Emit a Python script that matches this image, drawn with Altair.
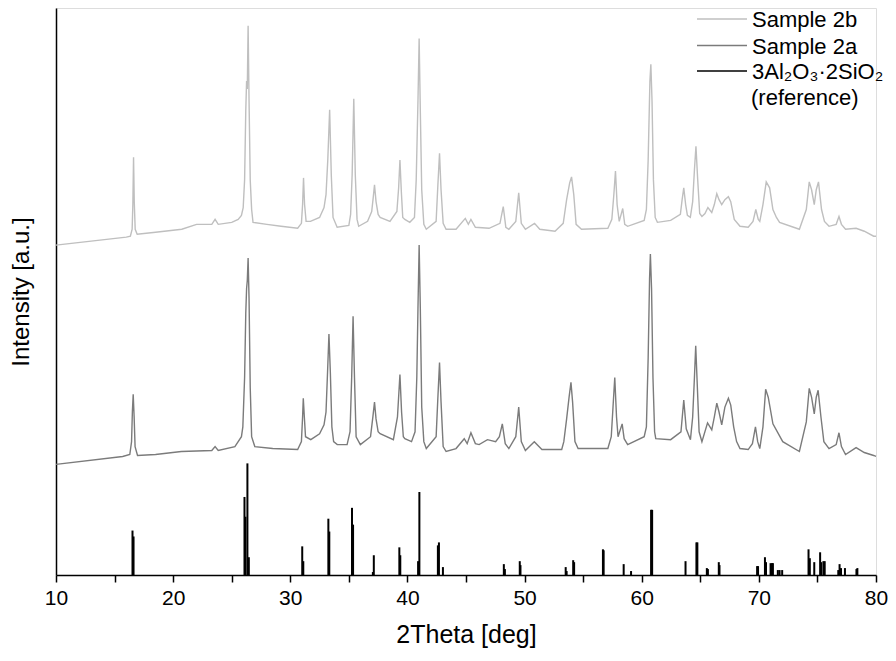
import altair as alt
import pandas as pd

# ---------------- data ----------------
series_names = ["Sample 2b", "Sample 2a", "3Al2O3·2SiO2 (reference)"]

# Sample 2b (upper pattern): 2theta [deg], intensity [a.u., as displayed]
sample_2b_theta = [
    10.0, 16.0, 16.35, 16.5, 16.56, 16.62, 16.68, 16.76, 16.93, 18.5, 20.74, 22.0, 23.3, 23.58,
    23.85, 25.0, 25.55, 25.83, 25.98, 26.1, 26.2, 26.27, 26.33, 26.4, 26.48, 26.58, 26.7, 26.82,
    28.0, 29.21, 30.63, 30.95, 31.05, 31.13, 31.22, 31.35, 31.72, 32.5, 32.88, 33.05, 33.2, 33.36,
    33.5, 33.65, 34.0, 35.0, 35.15, 35.28, 35.42, 35.55, 35.7, 35.84, 36.6, 36.95, 37.08, 37.19,
    37.32, 37.5, 37.67, 38.51, 39.1, 39.25, 39.36, 39.48, 39.6, 39.78, 40.2, 40.6, 40.75, 40.9,
    41.0, 41.1, 41.22, 41.4, 41.61, 42.45, 42.6, 42.74, 42.87, 43.05, 43.3, 44.15, 44.94, 45.2,
    45.42, 45.8, 46.97, 47.9, 48.18, 48.4, 48.66, 49.25, 49.5, 49.72, 50.07, 50.85, 51.3, 52.6,
    53.3, 53.59, 53.85, 54.01, 54.2, 54.4, 54.86, 57.11, 57.45, 57.62, 57.76, 57.9, 58.08, 58.38,
    58.55, 58.8, 60.21, 60.4, 60.55, 60.7, 60.78, 60.88, 61.0, 61.15, 61.34, 62.47, 63.3, 63.45,
    63.59, 63.75, 63.9, 64.15, 64.35, 64.5, 64.63, 64.78, 64.95, 65.14, 65.4, 65.65, 65.98, 66.2,
    66.41, 66.6, 66.83, 67.1, 67.4, 67.6, 67.9, 68.39, 69.09, 69.5, 69.74, 69.95, 70.08, 70.35,
    70.63, 70.92, 71.2, 71.5, 71.77, 73.46, 74.05, 74.3, 74.5, 74.73, 74.9, 75.09, 75.35, 75.6,
    75.99, 76.6, 76.84, 77.05, 77.4, 78.3, 79.0, 79.8, 80.0,
]
sample_2b_int = [
    334, 342, 343, 350, 375, 423, 378, 350, 345, 347, 350, 355, 355, 360,
    355, 357, 360, 364, 372, 400, 470, 500, 492, 556, 480, 400, 370, 357,
    355, 353, 351, 356, 375, 402, 375, 358, 358, 362, 372, 385, 420, 471,
    405, 362, 352, 354, 365, 405, 482, 405, 360, 353, 358, 368, 382, 395,
    378, 365, 362, 358, 368, 392, 420, 388, 362, 360, 357, 362, 400, 480,
    543, 470, 390, 355, 350, 358, 395, 427, 390, 356, 350, 350, 361, 355,
    360, 352, 351, 356, 373, 352, 350, 358, 387, 356, 350, 356, 350, 348,
    356, 380, 397, 403, 385, 355, 350, 351, 360, 385, 409, 375, 358, 371,
    355, 353, 359, 370, 420, 500, 517, 480, 400, 362, 357, 359, 365, 380,
    392, 375, 364, 362, 378, 410, 434, 400, 366, 363, 366, 372, 367, 375,
    386, 380, 375, 380, 383, 378, 360, 353, 352, 358, 370, 360, 358, 375,
    398, 392, 370, 362, 357, 350, 370, 398, 390, 375, 390, 398, 370, 358,
    353, 355, 363, 355, 350, 351, 348, 343, 343,
]

# Sample 2a (middle pattern)
sample_2a_theta = [
    10.0, 15.69, 16.3, 16.45, 16.52, 16.59, 16.67, 16.75, 16.96, 18.5, 20.7, 23.3, 23.58, 23.85,
    25.27, 25.83, 25.95, 26.1, 26.2, 26.27, 26.33, 26.4, 26.48, 26.58, 26.7, 26.97, 28.5, 30.63,
    30.95, 31.05, 31.11, 31.2, 31.3, 31.75, 32.5, 32.88, 33.05, 33.18, 33.3, 33.42, 33.55, 33.7,
    34.01, 34.85, 35.1, 35.24, 35.36, 35.48, 35.62, 35.98, 36.85, 37.05, 37.19, 37.32, 37.5, 37.67,
    38.8, 39.15, 39.36, 39.5, 39.65, 39.78, 40.35, 40.65, 40.8, 40.9, 41.0, 41.1, 41.22, 41.4,
    41.61, 42.45, 42.6, 42.74, 42.87, 43.05, 43.3, 44.15, 44.85, 45.1, 45.42, 45.8, 46.12, 46.83,
    47.53, 47.85, 48.1, 48.35, 48.66, 49.25, 49.5, 49.72, 50.07, 50.83, 51.48, 53.17, 53.35, 53.59,
    53.8, 53.96, 54.1, 54.3, 54.57, 57.11, 57.4, 57.55, 57.7, 57.85, 57.98, 58.33, 58.5, 58.8,
    60.21, 60.4, 60.55, 60.67, 60.74, 60.84, 60.96, 61.1, 61.2, 62.47, 63.35, 63.59, 63.8, 64.16,
    64.35, 64.5, 64.61, 64.75, 64.9, 65.14, 65.62, 65.98, 66.2, 66.41, 66.6, 66.83, 67.1, 67.4,
    67.6, 67.85, 68.1, 68.39, 69.09, 69.45, 69.71, 69.9, 70.08, 70.35, 70.58, 70.8, 71.2, 72.04,
    73.46, 74.05, 74.3, 74.5, 74.73, 74.9, 75.06, 75.3, 75.55, 75.99, 76.6, 76.84, 77.05, 77.4,
    78.3, 79.0, 79.8, 80.0,
]
sample_2a_int = [
    112, 120, 122, 135, 165, 183, 160, 130, 121, 122, 125, 126, 130, 126,
    130, 140, 150, 200, 265, 290, 298, 321, 280, 190, 140, 130, 128, 127,
    135, 160, 179, 160, 140, 137, 143, 152, 165, 205, 244, 205, 150, 135,
    132, 132, 145, 200, 262, 200, 140, 132, 140, 160, 175, 158, 145, 143,
    137, 160, 203, 165, 140, 138, 135, 145, 200, 270, 334, 270, 170, 135,
    128, 140, 180, 215, 175, 130, 125, 128, 138, 133, 144, 133, 132, 137,
    135, 140, 153, 133, 128, 140, 170, 135, 126, 135, 127, 127, 135, 158,
    180, 195, 175, 135, 128, 128, 140, 170, 200, 160, 140, 153, 138, 132,
    140, 150, 220, 300, 325, 290, 200, 145, 138, 137, 145, 177, 148, 137,
    160, 200, 232, 190, 145, 135, 154, 147, 160, 174, 165, 152, 170, 179,
    172, 150, 135, 128, 127, 133, 150, 135, 128, 150, 188, 180, 153, 135,
    125, 155, 189, 180, 163, 180, 187, 160, 135, 128, 132, 144, 130, 122,
    129, 124, 121, 120,
]

# 3Al2O3·2SiO2 reference pattern (stick positions and heights)
ref_theta = [
    16.53, 16.62, 26.09, 26.17, 26.34, 26.46, 31.02, 31.11, 33.25, 33.33, 35.27, 35.36,
    37.05, 37.13, 39.31, 39.39, 40.91, 41.02, 42.6, 42.69, 43.03, 48.23, 48.32, 49.59,
    49.65, 53.51, 53.59, 54.15, 54.23, 56.69, 56.75, 58.46, 59.09, 60.8, 60.89, 63.74,
    64.67, 64.75, 65.56, 65.65, 66.58, 66.64, 69.85, 69.93, 70.52, 70.61, 71.0, 71.12,
    71.2, 71.62, 71.77, 71.99, 74.24, 74.35, 74.73, 75.23, 75.32, 75.51, 75.62, 76.78,
    76.89, 77.01, 77.35, 78.33, 78.41,
]
ref_int = [
    45, 39, 79, 59, 113, 18, 29, 14, 57, 44, 68, 51,
    3, 20, 28, 20, 14, 84, 30, 33, 8, 11, 6, 14,
    10, 8, 4, 15, 13, 26, 25, 11, 4, 66, 66, 14,
    33, 33, 7, 6, 13, 10, 9, 9, 18, 13, 12, 12,
    12, 5, 5, 5, 26, 17, 13, 23, 13, 14, 14, 5,
    11, 7, 7, 6, 7,
]

x_ticks = [10, 15, 20, 25, 30, 35, 40, 45, 50, 55, 60, 65, 70, 75, 80]

# ---------------- styling ----------------
FONT = "Liberation Sans"
colors = ["#bfbfbf", "#7b7b7b", "#000000"]
W, H = 820, 567

lines_df = pd.concat([
    pd.DataFrame({"theta": sample_2b_theta, "intensity": sample_2b_int, "series": series_names[0]}),
    pd.DataFrame({"theta": sample_2a_theta, "intensity": sample_2a_int, "series": series_names[1]}),
])
ref_df = pd.DataFrame({"theta": ref_theta, "intensity": ref_int})

x_scale = alt.Scale(domain=[10, 80], nice=False, zero=False)
y_scale = alt.Scale(domain=[0, 574], nice=False, zero=True)

x_axis = alt.Axis(
    title="2Theta [deg]", values=x_ticks,
    labelExpr="datum.value % 10 == 0 ? datum.label : ''",
    tickSize=7, tickWidth=1.5, tickColor="#000", domainColor="#000", domainWidth=1.5,
    labelFontSize=21, labelColor="#000", labelPadding=5, labelFlush=False,
    titleFontSize=25, titleFontWeight="normal", titleColor="#000", titlePadding=14,
    grid=False,
)
y_axis = alt.Axis(
    title="Intensity [a.u.]", ticks=False, labels=False, grid=False,
    domainColor="#000", domainWidth=1.5,
    titleFontSize=24, titleFontWeight="normal", titleColor="#000", titlePadding=23,
)

lines = alt.Chart(lines_df).mark_line(strokeWidth=1.4, interpolate="linear").encode(
    x=alt.X("theta:Q", scale=x_scale, axis=x_axis),
    y=alt.Y("intensity:Q", scale=y_scale, axis=y_axis),
    color=alt.Color("series:N", scale=alt.Scale(domain=series_names[:2], range=colors[:2]), legend=None),
    detail="series:N",
)

sticks = alt.Chart(ref_df).mark_rule(color=colors[2], strokeWidth=2).encode(
    x=alt.X("theta:Q", scale=x_scale),
    y=alt.Y("intensity:Q", scale=y_scale),
    y2=alt.datum(0),
)

# ---------------- manual legend ----------------
leg_x0, leg_x1, leg_tx = 641, 691, 696
leg_ys = [11, 37.5, 63]
legend_layers = []
legend_texts = ["Sample 2b", "Sample 2a", "3Al\u2082O\u2083\u00b72SiO\u2082"]
for i in range(3):
    legend_layers.append(
        alt.Chart(pd.DataFrame({"k": [0]})).mark_rule(color=colors[i], strokeWidth=1.6).encode(
            x=alt.value(leg_x0), x2=alt.value(leg_x1), y=alt.value(leg_ys[i])
        )
    )
    legend_layers.append(
        alt.Chart(pd.DataFrame({"k": [0]})).mark_text(
            text=legend_texts[i], font=FONT, fontSize=22, align="left", baseline="middle", color="#000"
        ).encode(x=alt.value(leg_tx), y=alt.value(leg_ys[i] + 1))
    )
legend_layers.append(
    alt.Chart(pd.DataFrame({"k": [0]})).mark_text(
        text="(reference)", font=FONT, fontSize=22, align="left", baseline="middle", color="#000"
    ).encode(x=alt.value(leg_tx - 1), y=alt.value(leg_ys[2] + 27))
)

chart = alt.layer(lines, sticks, *legend_layers).properties(
    width=W, height=H,
    autosize=alt.AutoSizeParams(type="none"),
    padding={"left": 48, "top": 0, "right": 12, "bottom": 78},
).configure_view(
    stroke="#111", strokeWidth=1.5
).configure(
    font=FONT, background="white"
)

chart.save("out.html", embed_options={"renderer": "svg", "actions": False})
